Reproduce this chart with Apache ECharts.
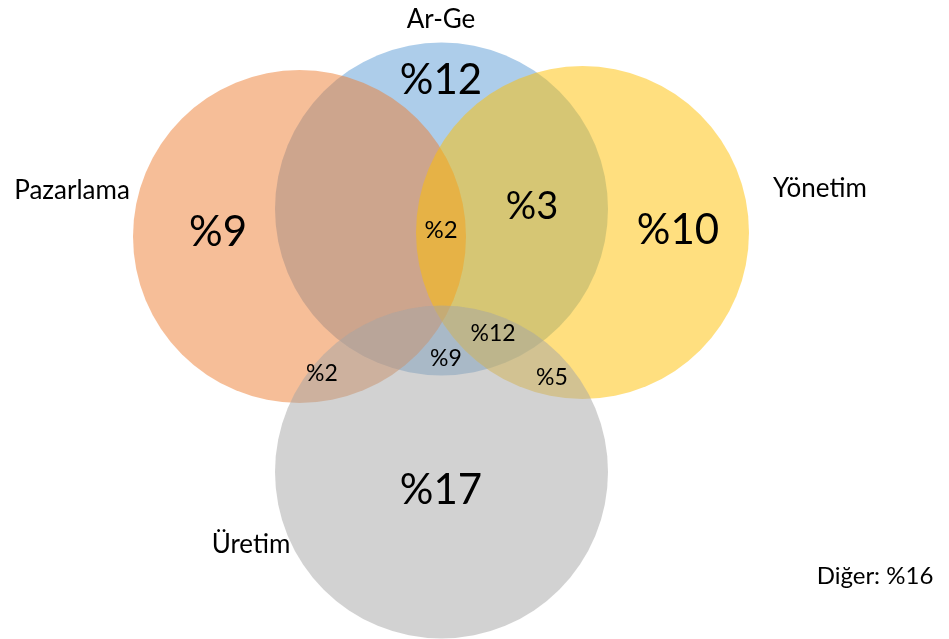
<!DOCTYPE html>
<html>
<head>
<meta charset="utf-8">
<script src="https://cdn.jsdelivr.net/npm/echarts@6/dist/echarts.min.js"></script>
<style>
html,body{margin:0;padding:0;background:#fff;}
#chart{width:949px;height:639px;}
</style>
</head>
<body>
<div id="chart"></div>
<script>
// ---- data ----
var setNames = ['Ar-Ge', 'Pazarlama', 'Yönetim', 'Üretim'];
var setColors = ['#5B9BD5', '#ED7D31', '#FFC000', '#A5A5A5'];
// region percentages
var regionNames = ['Ar-Ge', 'Pazarlama', 'Yönetim', 'Üretim',
  'Pazarlama∩Ar-Ge∩Yönetim', 'Ar-Ge∩Yönetim', 'Ar-Ge∩Yönetim∩Üretim',
  'Ar-Ge∩Üretim', 'Pazarlama∩Üretim', 'Yönetim∩Üretim'];
var regionValues = [12, 9, 10, 17, 2, 3, 12, 9, 2, 5];
var otherLabel = 'Diğer';
var otherValue = 16;

// ---- layout (diagram coordinate space) ----
var circleLayout = [
  {cx: 441.5, cy: 209, r: 166.5},
  {cx: 299.5, cy: 236.5, r: 166.5},
  {cx: 582.5, cy: 232.5, r: 166.5},
  {cx: 441.5, cy: 472, r: 166.5}
];
var setLabelLayout = [
  {x: 441, y: 20, s: 26}, {x: 72, y: 191, s: 26}, {x: 820, y: 189, s: 26}, {x: 251, y: 545, s: 26}
];
var regionLabelLayout = [
  {x: 441, y: 80, s: 42}, {x: 218, y: 232, s: 42}, {x: 678, y: 230, s: 42}, {x: 441, y: 490, s: 42},
  {x: 441, y: 230, s: 24}, {x: 532, y: 207, s: 38}, {x: 493, y: 334, s: 23},
  {x: 446, y: 359, s: 23}, {x: 322, y: 374, s: 23}, {x: 552, y: 378, s: 23}
];
var otherLayout = {x: 875, y: 576, s: 24};

var FONT = 'Lato, "Open Sans", sans-serif';

var circleData = setNames.map(function (n, i) {
  return {name: n, value: [circleLayout[i].cx, circleLayout[i].cy, circleLayout[i].r, i]};
});
var textData = [];
setNames.forEach(function (n, i) {
  textData.push({value: [setLabelLayout[i].x, setLabelLayout[i].y, setLabelLayout[i].s], label: n});
});
regionNames.forEach(function (n, i) {
  textData.push({value: [regionLabelLayout[i].x, regionLabelLayout[i].y, regionLabelLayout[i].s], label: '%' + regionValues[i]});
});
textData.push({value: [otherLayout.x, otherLayout.y, otherLayout.s], label: otherLabel + ': %' + otherValue});

var chart = echarts.init(document.getElementById('chart'));
chart.setOption({
  animation: false,
  grid: {left: 0, right: 0, top: 0, bottom: 0},
  xAxis: {type: 'value', min: 0, max: 949, show: false},
  yAxis: {type: 'value', min: 0, max: 639, inverse: true, show: false},
  series: [
    {
      type: 'custom',
      data: circleData,
      renderItem: function (params, api) {
        var c = api.coord([api.value(0), api.value(1)]);
        var r = api.size([api.value(2), 0])[0];
        var idx = api.value(3);
        return {
          type: 'circle',
          shape: {cx: c[0], cy: c[1], r: r},
          style: {fill: setColors[idx], opacity: 0.5}
        };
      }
    },
    {
      type: 'custom',
      data: textData,
      z: 10,
      renderItem: function (params, api) {
        var c = api.coord([api.value(0), api.value(1)]);
        return {
          type: 'text',
          x: c[0], y: c[1],
          style: {
            text: textData[params.dataIndex].label,
            fontFamily: FONT,
            fontSize: api.value(2),
            fill: '#000',
            align: 'center',
            verticalAlign: 'middle'
          }
        };
      }
    }
  ]
});
</script>
</body>
</html>
